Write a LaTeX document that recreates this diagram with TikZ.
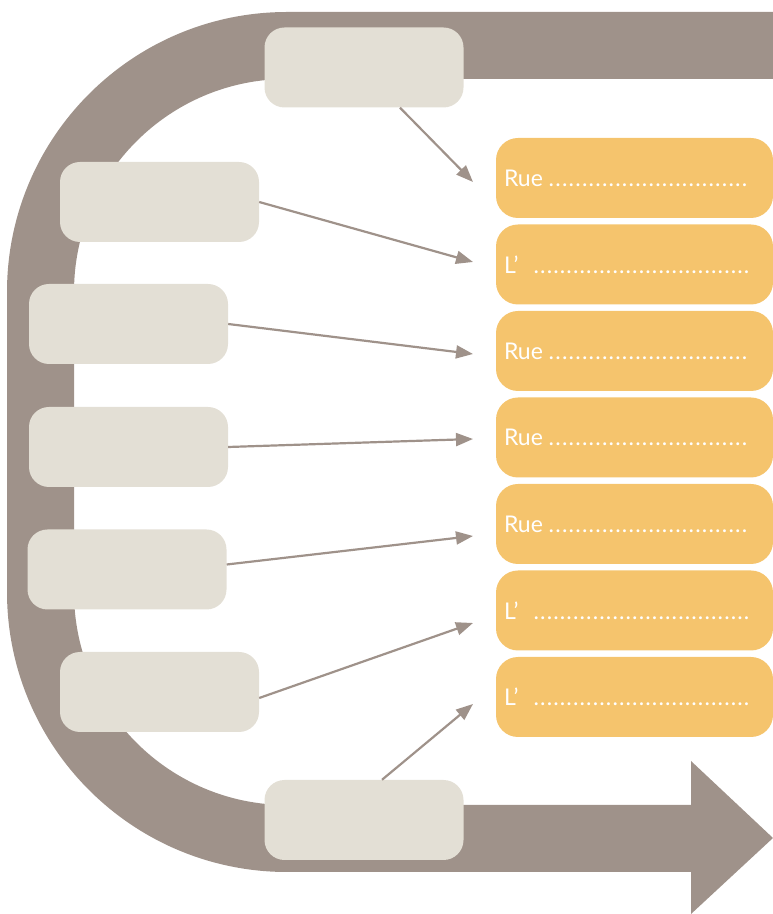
\documentclass[tikz,border=0pt]{standalone}
\usepackage{fontspec}
\setmainfont{Lato}
\usetikzlibrary{arrows.meta,calc}
\definecolor{bandgray}{HTML}{9F928A}
\definecolor{boxgray}{HTML}{E3DFD5}
\definecolor{boxorange}{HTML}{F5C46D}
\newcommand{\mydots}[1]{\makebox[#1][l]{\xleaders\hbox to 6.5pt{\hss.\hss}\hfill}}
\begin{document}
\begin{tikzpicture}[x=1pt,y=1pt,
  gbox/.style={fill=boxgray, rounded corners=20pt, minimum width=199pt, minimum height=80pt, inner sep=0pt},
  obox/.style={fill=boxorange, rounded corners=22pt, minimum width=277pt, minimum height=80pt,
    text width=261pt, inner xsep=8pt, inner ysep=0pt, align=left, text=white,
    font=\fontsize{23}{23}\selectfont},
  conn/.style={draw=bandgray, line width=2.2pt, -{Triangle[length=17pt,width=13pt]}}]
\useasboundingbox (0,0) rectangle (773,914);
% big U-turn arrow
\fill[bandgray] (773,902) -- (287,902) arc[start angle=90,end angle=180,radius=280]
  -- (7,322) arc[start angle=180,end angle=270,radius=280]
  -- (691,42) -- (691,0) -- (773,76) -- (691,153) -- (691,109)
  -- (287,109) arc[start angle=270,end angle=180,radius=213]
  -- (74,622) arc[start angle=180,end angle=90,radius=213]
  -- (773,835) -- cycle;
% grey boxes
\node[gbox] (g1) at (364,846.5) {};
\node[gbox] (g2) at (159.5,712) {};
\node[gbox] (g3) at (128.5,590) {};
\node[gbox] (g4) at (128.5,467) {};
\node[gbox] (g5) at (127,344.5) {};
\node[gbox] (g6) at (159.5,222) {};
\node[gbox] (g7) at (364,94) {};
% orange boxes
\node[obox] (o1) at (634.5,736) {\makebox[44pt][l]{Rue}\mydots{200pt}};
\node[obox] (o2) at (634.5,649.5) {\makebox[29pt][l]{L’}\mydots{217pt}};
\node[obox] (o3) at (634.5,563) {\makebox[44pt][l]{Rue}\mydots{200pt}};
\node[obox] (o4) at (634.5,476.5) {\makebox[44pt][l]{Rue}\mydots{200pt}};
\node[obox] (o5) at (634.5,390) {\makebox[44pt][l]{Rue}\mydots{200pt}};
\node[obox] (o6) at (634.5,303.5) {\makebox[29pt][l]{L’}\mydots{217pt}};
\node[obox] (o7) at (634.5,217) {\makebox[29pt][l]{L’}\mydots{217pt}};
% arrow tips
\coordinate (t1) at (473,732);
\coordinate (t2) at (473,652);
\coordinate (t3) at (473,560);
\coordinate (t4) at (473,475);
\coordinate (t5) at (473,378);
\coordinate (t6) at (473,291);
\coordinate (t7) at (473,210);
% connectors
\draw[conn] ([xshift=36pt]g1.south) -- (t1);
\draw[conn] (g2.east) -- (t2);
\draw[conn] (g3.east) -- (t3);
\draw[conn] (g4.east) -- (t4);
\draw[conn] ([yshift=5pt]g5.east) -- (t5);
\draw[conn] ([yshift=-6pt]g6.east) -- (t6);
\draw[conn] ([xshift=18pt]g7.north) -- (t7);
\end{tikzpicture}
\end{document}
